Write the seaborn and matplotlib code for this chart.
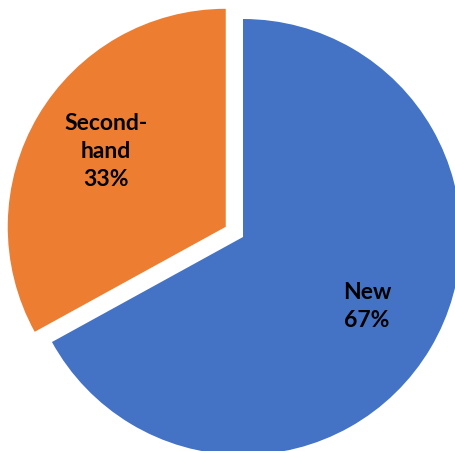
import matplotlib
matplotlib.use("Agg")
import matplotlib.pyplot as plt
import matplotlib.transforms as mtransforms
import seaborn as sns

categories = ["New", "Second-\nhand"]
shares = [67, 33]
explode = [0.0, 0.092]
colors = ["#4472C4", "#ED7D31"]

sns.set_theme(style="white")
plt.rcParams["font.family"] = ["Lato", "DejaVu Sans"]

fig = plt.figure(figsize=(4.56, 4.52), dpi=100)
ax = fig.add_axes([0, 0, 1, 1])

labels = [f"{c}\n{v}%" for c, v in zip(categories, shares)]
wedges, texts = ax.pie(
    shares,
    labels=labels,
    colors=colors,
    explode=explode,
    startangle=90,
    counterclock=False,
    labeldistance=0.65,
    wedgeprops={"linewidth": 0},
    textprops={"ha": "center", "va": "center", "fontsize": 16.5,
               "fontweight": "bold", "color": "black", "linespacing": 1.42},
)
# nudge the labels up a few pixels
nudge = mtransforms.offset_copy(ax.transData, fig=fig, x=2, y=4, units="dots")
for t in texts:
    t.set_transform(nudge)

r_px = 218.0
cx, cy = 243.0, 452.0 - 238.0
ax.set_xlim(-cx / r_px, (456 - cx) / r_px)
ax.set_ylim(-cy / r_px, (452 - cy) / r_px)
ax.set_aspect("equal")
ax.axis("off")

fig.savefig("out.png", dpi=100)
